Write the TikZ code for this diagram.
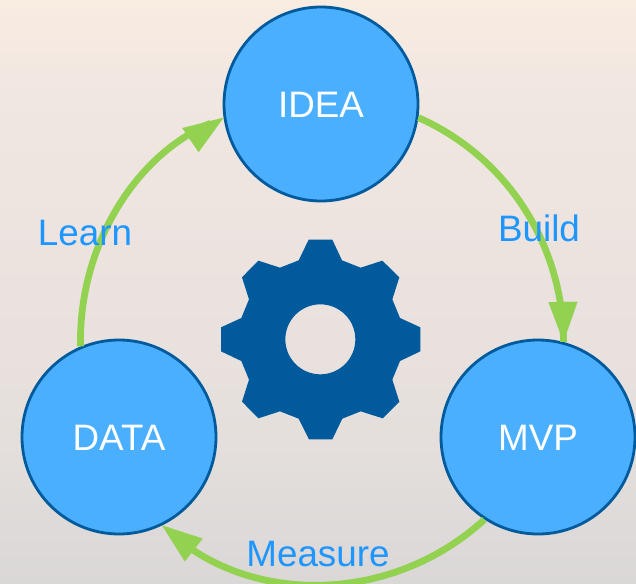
\documentclass[tikz,border=0pt]{standalone}
\usepackage{fontspec}
\setmainfont{Liberation Sans}
\usetikzlibrary{arrows.meta,calc}
\definecolor{bgA}{RGB}{249,236,225}
\definecolor{bgB}{RGB}{241,231,225}
\definecolor{bgC}{RGB}{235,226,223}
\definecolor{bgD}{RGB}{228,223,220}
\definecolor{bgE}{RGB}{218,215,215}
\definecolor{nodeblue}{RGB}{75,175,255}
\definecolor{deepblue}{RGB}{0,90,156}
\definecolor{loopgreen}{RGB}{146,210,80}
\definecolor{labelblue}{RGB}{30,150,255}
\pgfdeclareverticalshading{bgshade}{100bp}{color(0bp)=(bgE);color(25bp)=(bgE);color(37bp)=(bgD);color(50bp)=(bgC);color(67bp)=(bgB);color(75bp)=(bgA);color(100bp)=(bgA)}
\tikzset{
  stagebox/.style={circle,draw=deepblue,fill=nodeblue,line width=2.8pt,minimum size=194pt,inner sep=0pt,
    text=white,font=\fontsize{36.8}{37}\selectfont,text height=26.3pt,text depth=0pt},
  loopline/.style={draw=loopgreen,line width=6.8pt},
  looptip/.style={draw=loopgreen,fill=loopgreen,line width=.1pt,-{Triangle[length=40pt,width=29pt]}},
  looplabel/.style={text=labelblue,font=\fontsize{36.8}{37}\selectfont,inner sep=0pt,anchor=base},
}
\begin{document}
\begin{tikzpicture}[x=1pt,y=-1pt]
\useasboundingbox (0,0) rectangle (636,583);
\shade[shading=bgshade] (0,0) rectangle (636,583);
% nodes
\node[stagebox] (idea) at (321,104) {IDEA};
\node[stagebox] (mvp) at (538,437) {MVP};
\node[stagebox] (data) at (119,437) {DATA};
% connectors
\draw[loopline] (idea.-8) to[out=-23.8,in=90,looseness=.925] (mvp.75);
\draw[loopline,shorten >=14pt] (mvp.237) to[out=-137.5,in=-41,looseness=.976] (data.-64);
\draw[loopline,shorten >=14pt] (data.113.5) to[out=91.3,in=203.2,looseness=.93] (idea.188);
\draw[looptip] ($(mvp.75)+(-.5,-41)$) -- (mvp.75);
\draw[looptip] ($(data.-64)+(31.5,24.5)$) -- (data.-64);
\draw[looptip] ($(idea.188)+(-34,23)$) -- (idea.188);
% labels
\node[looplabel] (build) at (539,241) {Build};
\node[looplabel] (learn) at (85,245) {Learn};
\node[looplabel] (measure) at (318,566) {Measure};
% gear
\begin{scope}[shift={(200,220)},x=.33333pt,y=-.33333pt]
\fill[deepblue,even odd rule]
 (326,59)--(397,59)--(426,121)--(482,143)--(547,122)--(598,172)--(577,238)--(600,294)--(661,322)--(661,394)--(600,423)--(577,479)--(598,545)--(548,595)--(482,574)--(427,596)--(397,658)--(327,658)--(296,596)--(240,574)--(175,595)--(126,545)--(147,479)--(124,423)--(63,394)--(63,322)--(124,294)--(147,238)--(126,172)--(175,122)--(240,143)--(296,121)--cycle
 (361,358) circle [radius=105];
\end{scope}
\end{tikzpicture}
\end{document}
